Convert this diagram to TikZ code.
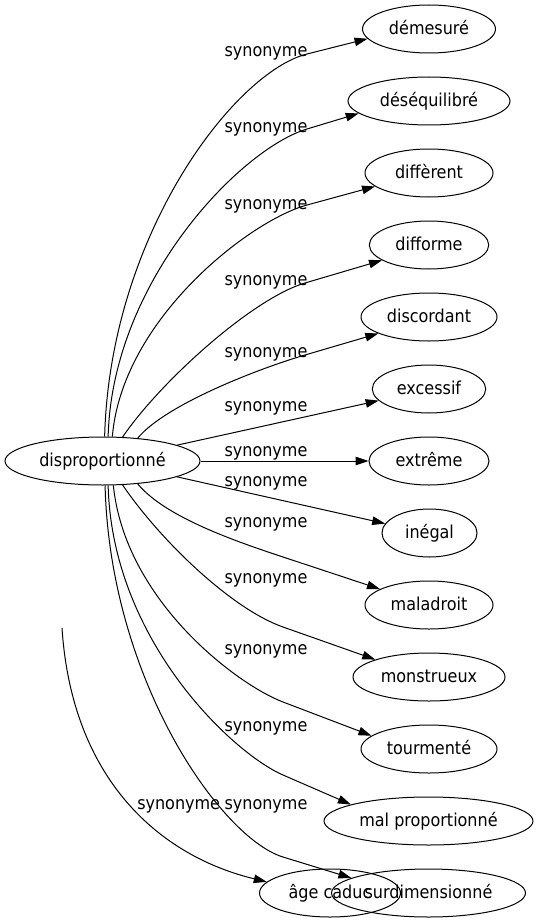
\documentclass[tikz,border=0pt]{standalone}
\usepackage{fontspec}
\setmainfont{DejaVu Sans Condensed}
\usetikzlibrary{shapes.geometric,arrows.meta,calc}
\newcommand{\gvfont}{\fontsize{17.8pt}{20pt}\selectfont}
\begin{document}
\begin{tikzpicture}[x=1pt,y=-1pt,
  nd/.style={draw, ellipse, line width=1pt, inner sep=0pt, minimum height=48pt, text height=13pt, text depth=2pt, font=\gvfont},
  lbl/.style={anchor=base, inner sep=0pt, font=\gvfont},
  syn/.style={line width=1pt, -{Triangle[length=13pt,width=8.5pt]}}]
\useasboundingbox (0,0) rectangle (539,923);
% nodes
\node[nd, minimum width=195pt] (src) at (102.5,461) {disproportionné};
\node[nd, minimum width=133pt] (dm) at (429,29) {démesuré};
\node[nd, minimum width=162pt] (ds) at (429,101) {déséquilibré};
\node[nd, minimum width=128pt] (df) at (429,173) {diffèrent};
\node[nd, minimum width=119.4pt] (dfo) at (429,245) {difforme};
\node[nd, minimum width=136pt] (dc) at (429,317) {discordant};
\node[nd, minimum width=113.4pt] (ex) at (429,389) {excessif};
\node[nd, minimum width=120pt] (ext) at (429,461) {extrême};
\node[nd, minimum width=95pt] (ing) at (429.5,533) {inégal};
\node[nd, minimum width=128pt] (mal) at (429,605) {maladroit};
\node[nd, minimum width=152pt] (mon) at (429,677) {monstrueux};
\node[nd, minimum width=136pt] (tou) at (429,749) {tourmenté};
\node[nd, minimum width=209pt] (mp) at (428.5,821) {mal proportionné};
\node[nd, minimum width=194pt] (sur) at (428.5,893) {surdimensionné};
\node[nd, minimum width=141pt] (age) at (330,893) {âge caduc};
% upper edges
\coordinate (m1) at (307,54);
\draw[syn] (src.85) .. controls (110,235) and ($(m1)!-75pt!(dm.189)$) .. (m1) -- (dm.189);
\coordinate (m2) at (307,129);
\draw[syn] (src.77) .. controls (112,282) and ($(m2)!-70pt!(ds.190)$) .. (m2) -- (ds.190);
\coordinate (m3) at (307,205);
\draw[syn] (src.68) .. controls (122,320) and ($(m3)!-60pt!(df.194)$) .. (m3) -- (df.194);
\coordinate (m4) at (305,283);
\draw[syn] (src.50) .. controls (160,382) and ($(m4)!-55pt!(dfo.198)$) .. (m4) -- (dfo.198);
\coordinate (m5) at (305,355);
\draw[syn] (src.33) .. controls (165,405) and ($(m5)!-50pt!(dc.198)$) .. (m5) -- (dc.198);
\draw[syn] (src.12) -- (ex.193);
\draw[syn] (src.east) -- (ext.west);
\draw[syn] (src.348) -- (ing.168);
% lower edges
\coordinate (m8) at (283,557);
\draw[syn] (src.327) .. controls (165,517) and ($(m8)!-50pt!(mal.162)$) .. (m8) -- (mal.162);
\coordinate (m9) at (283,627);
\draw[syn] (src.310) .. controls (160,540) and ($(m9)!-55pt!(mon.162)$) .. (m9) -- (mon.162);
\coordinate (m10) at (283,702);
\draw[syn] (src.294) .. controls (125,600) and ($(m10)!-50pt!(tou.167)$) .. (m10) -- (tou.167);
\coordinate (m11) at (283,775);
\draw[syn] (src.283) .. controls (112,640) and ($(m11)!-55pt!(mp.168)$) .. (m11) -- (mp.168);
\coordinate (m12) at (283,857);
\draw[syn] (src.276) .. controls (110,680) and ($(m12)!-65pt!(sur.169)$) .. (m12) -- (sur.169);
\coordinate (a0) at (62,628);
\draw[syn] (a0) .. controls (72,780) and (160,856) .. (age.170);
% labels
\node[lbl] (l1) at (266,57) {synonyme};
\node[lbl] (l2) at (266,132) {synonyme};
\node[lbl] (l3) at (266,209) {synonyme};
\node[lbl] (l4) at (266,285.5) {synonyme};
\node[lbl] (l5) at (266,357) {synonyme};
\node[lbl] (l6) at (266,411.5) {synonyme};
\node[lbl] (l7) at (266,456) {synonyme};
\node[lbl] (l8) at (266,486) {synonyme};
\node[lbl] (l9) at (266,527.5) {synonyme};
\node[lbl] (l10) at (266,583) {synonyme};
\node[lbl] (l11) at (266,654) {synonyme};
\node[lbl] (l12) at (266,731.5) {synonyme};
\node[lbl] (l13) at (266,809) {synonyme};
\node[lbl] (l14) at (178.7,809) {synonyme};
\end{tikzpicture}
\end{document}
